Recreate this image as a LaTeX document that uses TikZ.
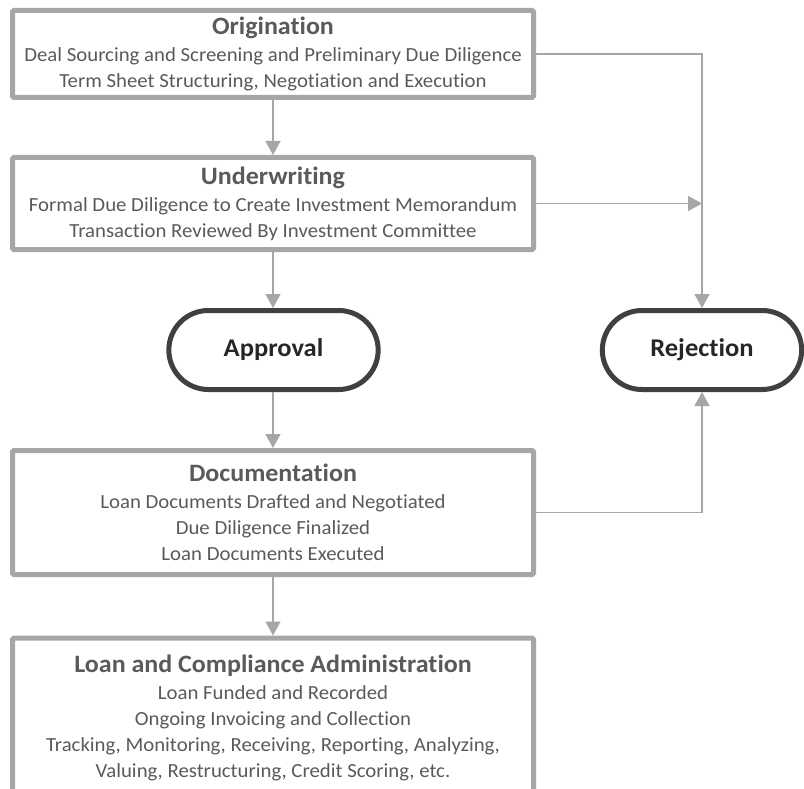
\documentclass[tikz,border=0pt]{standalone}
\usepackage{fontspec}
\setmainfont{Carlito}[FakeStretch=1.04,Ligatures=NoCommon]
\usetikzlibrary{positioning,
        shapes.misc,
        arrows.meta}
\definecolor{boxgray}{HTML}{A6A6A6}
\definecolor{pilldark}{HTML}{404040}
\definecolor{txtgray}{HTML}{5A5A5A}

\tikzset{stage/.style={rectangle,draw=boxgray,line width=5pt,rounded corners=1.5pt,fill=white,
            minimum width=521pt,align=center,text=txtgray,font=\fontsize{20}{26}\selectfont,inner sep=0pt},
        outcome/.style={rounded rectangle,draw=pilldark,line width=5pt,fill=white,
            minimum height=79pt,text=black!85,font=\fontsize{25.5}{28}\selectfont\bfseries},
        conn/.style={draw=boxgray,line width=1.5pt},
        flow/.style={conn,-{Triangle[width=15pt,length=14pt]}}}
\newcommand{\stagetitle}[1]{{\fontsize{25}{28}\selectfont\bfseries #1}}

\begin{document}
\begin{tikzpicture}[x=1pt,y=-1pt]
            \clip (0,0) rectangle (804,789);
            \fill [white] (0,0) rectangle (804,789);

            \node [stage,minimum height=87pt] (orig) at (273,54) {\stagetitle{Origination}\\[1pt]
                Deal Sourcing and Screening and Preliminary Due Diligence\\
                Term Sheet Structuring, Negotiation and Execution};
            \node [stage,minimum height=92pt] (under) at (273,203.5) {\stagetitle{Underwriting}\\[1pt]
                Formal Due Diligence to Create Investment Memorandum\\
                Transaction Reviewed By Investment Committee};
            \node [outcome,minimum width=216pt] (appr) at (273.5,350) {Approval};
            \node [outcome,minimum width=206pt] (rej) at (702,350) {Rejection};
            \node [stage,minimum height=124pt] (doc) at (273,512.5) {\stagetitle{Documentation}\\[1pt]
                Loan Documents Drafted and Negotiated\\
                Due Diligence Finalized\\
                Loan Documents Executed};
            \node [stage,minimum height=160pt,anchor=north] (admin) at (273,635.5) {\stagetitle{Loan and Compliance Administration}\\[1pt]
                Loan Funded and Recorded\\
                Ongoing Invoicing and Collection\\
                Tracking, Monitoring, Receiving, Reporting, Analyzing,\\
                Valuing, Restructuring, Credit Scoring, etc.};

            \coordinate (hit) at (under.east -| rej.north);

            \draw [flow] (orig) -- (under);
            \draw [flow] (under) -- (appr.north -| under.south);
            \draw [flow] (appr.south -| doc.north) -- (doc);
            \draw [flow] (doc) -- (admin);
            \draw [flow] (orig.east) -| (rej.north);
            \draw [flow] (under.east) -- (hit);
            \draw [flow] (doc.east) -| (rej.south);
        \end{tikzpicture}
\end{document}
